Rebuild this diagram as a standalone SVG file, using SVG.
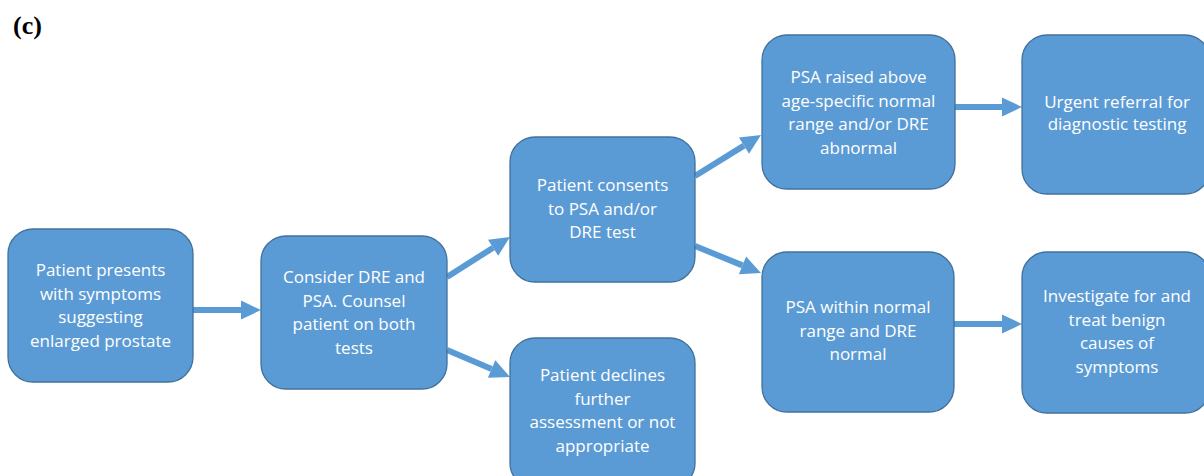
<svg xmlns="http://www.w3.org/2000/svg" width="1204" height="476" viewBox="0 0 1204 476">
<style>
.node rect{fill:#5B9BD5;stroke:#41719C;stroke-width:1.3}
.node text{fill:#FFFFFF;font-family:"Open Sans","Liberation Sans",sans-serif;font-size:17px;text-anchor:middle}
.conn line{stroke:#5B9BD5;stroke-width:6;fill:none}
.lbl{font-family:"Liberation Serif",serif;font-weight:bold;font-size:26px;fill:#000}
</style>
<defs>
<marker id="ah" markerUnits="userSpaceOnUse" markerWidth="21" markerHeight="20" refX="0" refY="9.5" orient="auto" overflow="visible">
<path d="M0,0 L20,9.5 L0,19 z" fill="#5B9BD5"/>
</marker>
</defs>
<rect width="1204" height="476" fill="#FFFFFF"/>
<text class="lbl" x="13" y="34">(c)</text>
<g id="connectors" class="conn">
<line x1="193" y1="310" x2="241" y2="310" marker-end="url(#ah)"/>
<line x1="447" y1="277" x2="493.1" y2="247.7" marker-end="url(#ah)"/>
<line x1="447" y1="350" x2="491.6" y2="369.1" marker-end="url(#ah)"/>
<line x1="695" y1="176" x2="744" y2="145.6" marker-end="url(#ah)"/>
<line x1="695" y1="246" x2="742.5" y2="265.4" marker-end="url(#ah)"/>
<line x1="955" y1="107" x2="1002" y2="107" marker-end="url(#ah)"/>
<line x1="954" y1="324" x2="1002" y2="324" marker-end="url(#ah)"/>
</g>
<g id="n1" class="node">
<rect x="8" y="229" width="185" height="153" rx="25"/>
<text x="100.5" y="276">Patient presents</text>
<text x="100.5" y="299.5">with symptoms</text>
<text x="100.5" y="323">suggesting</text>
<text x="100.5" y="346.5">enlarged prostate</text>
</g>
<g id="n2" class="node">
<rect x="261" y="236" width="186" height="153" rx="25"/>
<text x="354" y="283">Consider DRE and</text>
<text x="354" y="306.5">PSA. Counsel</text>
<text x="354" y="330">patient on both</text>
<text x="354" y="353.5">tests</text>
</g>
<g id="n3" class="node">
<rect x="510" y="137" width="185" height="145" rx="25"/>
<text x="602.5" y="191">Patient consents</text>
<text x="602.5" y="214.5">to PSA and/or</text>
<text x="602.5" y="238">DRE test</text>
</g>
<g id="n4" class="node">
<rect x="510" y="338" width="185" height="150" rx="25"/>
<text x="602.5" y="381">Patient declines</text>
<text x="602.5" y="404.5">further</text>
<text x="602.5" y="428">assessment or not</text>
<text x="602.5" y="451.5">appropriate</text>
</g>
<g id="n5" class="node">
<rect x="762" y="35" width="193" height="154" rx="25"/>
<text x="858.5" y="83">PSA raised above</text>
<text x="858.5" y="106.5">age-specific normal</text>
<text x="858.5" y="130">range and/or DRE</text>
<text x="858.5" y="153.5">abnormal</text>
</g>
<g id="n6" class="node">
<rect x="1022" y="35" width="188" height="159" rx="25"/>
<text x="1117" y="108">Urgent referral for</text>
<text x="1117" y="130">diagnostic testing</text>
</g>
<g id="n7" class="node">
<rect x="762" y="252" width="192" height="160" rx="25"/>
<text x="858" y="313">PSA within normal</text>
<text x="858" y="336.5">range and DRE</text>
<text x="858" y="360">normal</text>
</g>
<g id="n8" class="node">
<rect x="1022" y="252" width="188" height="161" rx="25"/>
<text x="1117" y="302">Investigate for and</text>
<text x="1117" y="325.5">treat benign</text>
<text x="1117" y="349">causes of</text>
<text x="1117" y="372.5">symptoms</text>
</g>
</svg>
